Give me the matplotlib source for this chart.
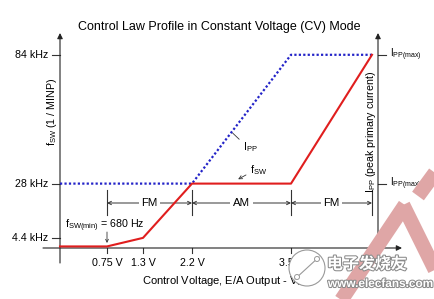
import matplotlib.pyplot as plt
import matplotlib.patheffects as pe
from matplotlib.lines import Line2D
from matplotlib.patches import Circle
from matplotlib.transforms import IdentityTransform
import numpy as np

plt.rcParams['font.family'] = ['Liberation Sans', 'DejaVu Sans']
plt.rcParams['mathtext.default'] = 'regular'

v_ticks = [0.75, 1.3, 2.2, 3.5]
v_labels = ['0.75 V', '1.3 V', '2.2 V', '3.5 V']
f_ticks = [4.4, 28, 84]
f_labels = ['4.4 kHz', '28 kHz', '84 kHz']
ipp_ticks = [28, 84]
ipp_labels = ['I$_{PP(max)}$ / 4', 'I$_{PP(max)}$']

fsw_v = [0, 0.75, 1.3, 2.2, 3.5, 4.8]
fsw_khz = [0.68, 0.68, 4.4, 28, 28, 84]
ipp_v = [0, 2.2, 3.5, 4.8]
ipp_lvl = [28, 28, 84, 84]

mode_edges = [0.75, 2.2, 3.5, 4.8]
modes = ['FM', 'AM', 'FM']
v_right = 4.9

# echelle x du schema (non lineaire)
kv = np.array([-50, 0, 0.75, 1.3, 2.2, 3.5, 4.8, 4.9, 50])
kp = np.array([-3200, 0, 47, 83, 132, 231, 312, 318, 318 + 45.1 * 64])


def fwd(v):
    return np.interp(v, kv, kp)


def inv(p):
    return np.interp(p, kp, kv)


def px(x, y):
    # position en pixels -> coordonnees donnees
    return float(inv(x - 60)), (248 - y) / 2.3


fig = plt.figure(figsize=(4.35, 2.99), dpi=100)
ax = fig.add_axes([0, 0, 1, 1])
ax.set_xscale('function', functions=(fwd, inv))
ax.set_xlim(inv(-60), inv(375))
ax.set_ylim((248 - 299) / 2.3, 248 / 2.3)
ax.axis('off')

ak = dict(color='#333333', lw=0.8)
head = dict(arrowstyle='-|>', color='#222222', lw=0.8, mutation_scale=8,
            shrinkA=0, shrinkB=0)

# axes du schema
ax.annotate('', xy=(0, px(0, 33)[1]), xytext=(0, px(0, 263)[1]), arrowprops=head)
ax.annotate('', xy=(v_right, px(0, 33)[1]), xytext=(v_right, px(0, 256)[1]),
            arrowprops=head)
ax.annotate('', xy=(px(402, 0)[0], 0), xytext=(px(43, 0)[0], 0), arrowprops=head)

fs = 7.7
for f, lab in zip(f_ticks, f_labels):
    ax.plot([px(52, 0)[0], 0], [f, f], **ak)
    ax.text(px(48, 0)[0], f, lab, ha='right', va='center', fontsize=fs)
for f, lab in zip(ipp_ticks, ipp_labels):
    ax.plot([v_right, px(386, 0)[0]], [f, f], **ak)
    ax.text(px(390, 0)[0], f, lab, ha='left', va='center', fontsize=fs - 0.5)
for v, lab in zip(v_ticks, v_labels):
    ax.plot([v, v], [0, px(0, 253)[1]], **ak)
    ax.text(v, px(0, 263)[1], lab, ha='center', va='center', fontsize=fs)

# courbes
ax.plot(ipp_v, ipp_lvl, color='#2323c8', lw=1.6, linestyle=(0, (1, 1.0)), zorder=3)
ax.plot(fsw_v, fsw_khz, color='#e01e1e', lw=1.5, zorder=4)

# zones FM / AM
y_dim = px(0, 203)[1]
for v in mode_edges:
    ax.plot([v, v], [px(0, 215)[1], px(0, 190)[1]], **ak)
for a, b, m in zip(mode_edges[:-1], mode_edges[1:], modes):
    ax.annotate('', xy=(a, y_dim), xytext=(b, y_dim),
                arrowprops=dict(arrowstyle='<->', color='#333333', lw=0.7,
                                mutation_scale=6, shrinkA=0, shrinkB=0))
    vm = inv((fwd(a) + fwd(b)) / 2)
    ax.text(vm, y_dim, m, ha='center', va='center', fontsize=fs + 0.5,
            bbox=dict(boxstyle='square,pad=0.25', fc='white', ec='none'))

# annotations
ax.text(*px(65, 226), 'f$_{SW(min)}$ = 680 Hz', ha='left', va='center', fontsize=fs)
ax.annotate('', xy=(0.75, px(0, 243)[1]), xytext=(0.75, px(0, 232)[1]),
            arrowprops=dict(arrowstyle='->', color='#333333', lw=0.6,
                            mutation_scale=5, shrinkA=0, shrinkB=0))
ax.annotate('I$_{PP}$', xy=(2.72, 50.4), xytext=px(243, 147), ha='left',
            va='center', fontsize=fs,
            arrowprops=dict(arrowstyle='-', color='#333333', lw=0.6,
                            relpos=(0, 0.8), shrinkA=1, shrinkB=1))
ax.annotate('f$_{SW}$', xy=(2.79, 29.6), xytext=px(250, 170), ha='left',
            va='center', fontsize=fs,
            arrowprops=dict(arrowstyle='->', color='#333333', lw=0.6,
                            mutation_scale=6, relpos=(0, 0.3), shrinkA=1, shrinkB=1))

ax.text(*px(52, 112), 'f$_{SW}$ (1 / MINP)', rotation=90, ha='center',
        va='center', fontsize=fs)
ax.text(*px(371, 132), 'I$_{PP}$ (peak primary current)', rotation=90,
        ha='center', va='center', fontsize=fs)
ax.text(*px(142, 281), 'Control Voltage, E/A Output - V$_C$', ha='left',
        va='center', fontsize=fs + 0.3)

fig.text(219 / 435, 1 - 27 / 299, 'Control Law Profile in Constant Voltage (CV) Mode',
         ha='center', va='center', fontsize=9)

# filigrane
wm = '#dfa6a6'
for (x0, y0), (x1, y1) in [((338, 305), (405, 205)), ((403, 205), (445, 290)),
                           ((418, 196), (440, 166))]:
    fig.add_artist(Line2D([x0 / 435, x1 / 435], [1 - y0 / 299, 1 - y1 / 299],
                          transform=fig.transFigure, color=wm, lw=10.5,
                          solid_capstyle='butt', zorder=6))
fig.add_artist(Circle((307, 299 - 268), 18, transform=IdentityTransform(),
                      fc='white', ec='#999999', lw=0.8, zorder=7))
fig.add_artist(Line2D([295, 319], [299 - 279, 299 - 257], transform=IdentityTransform(),
                      color='#999999', lw=0.8, zorder=8))
for cx, cy in [(297, 277), (317, 259)]:
    fig.add_artist(Circle((cx, 299 - cy), 2.5, transform=IdentityTransform(),
                          fc='white', ec='#999999', lw=0.7, zorder=8))
halo = [pe.withStroke(linewidth=1.5, foreground='#8a8a8a')]
fig.text(327 / 435, 1 - 264 / 299, '电子发烧友', family=['Noto Sans CJK SC'],
         color='white', fontsize=11.5, weight='bold', va='center', ha='left',
         path_effects=halo, zorder=9)
fig.text(328 / 435, 1 - 284 / 299, 'www.elecfans.com', color='white', fontsize=8.5,
         weight='bold', va='center', ha='left', path_effects=halo, zorder=9)

fig.savefig('out.png', dpi=100)
